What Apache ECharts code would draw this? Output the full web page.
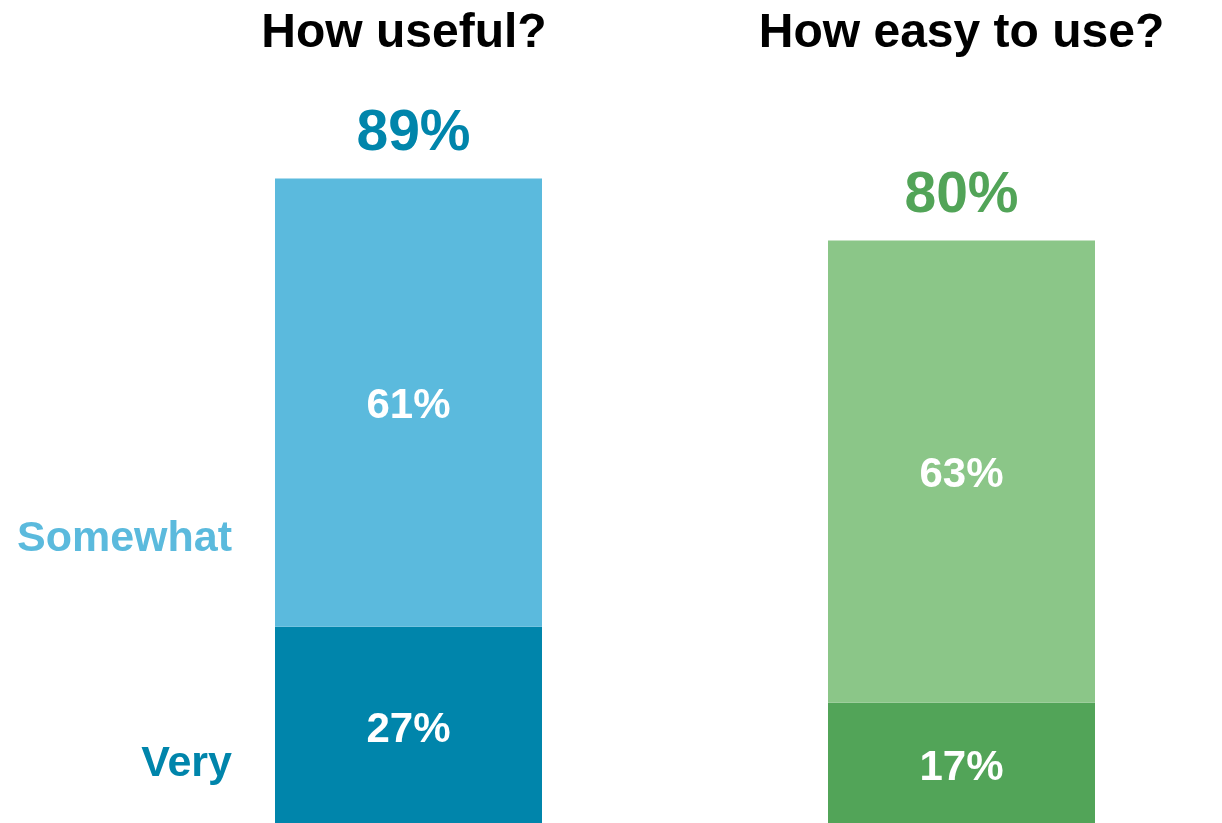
<!DOCTYPE html>
<html>
<head>
<meta charset="utf-8">
<style>
  html, body { margin: 0; padding: 0; background: #ffffff; }
  #chart { width: 1222px; height: 823px; }
</style>
<script src="https://cdn.jsdelivr.net/npm/echarts@6/dist/echarts.min.js"></script>
</head>
<body>
<div id="chart"></div>
<script>
// Survey questions and the share of respondents per answer (percent)
const categories = ['How useful?', 'How easy to use?'];
const veryValues = [27.3, 16.9];
const somewhatValues = [61.4, 63.3];
const answerNames = ['Somewhat', 'Very'];

// Colour per question: dark shade for "Very", light shade for "Somewhat"
const veryColors = ['#0085AB', '#52A458'];
const somewhatColors = ['#5BBADD', '#8BC688'];

const FONT = '"Liberation Sans", Arial, Helvetica, sans-serif';

const pct = v => Math.round(v) + '%';
const totals = categories.map((_, i) => veryValues[i] + somewhatValues[i]);

const insideLabel = {
  show: true,
  position: 'inside',
  offset: [0, 4],
  color: '#ffffff',
  fontFamily: FONT,
  fontWeight: 'bold',
  fontSize: 42,
  formatter: p => pct(p.value)
};

const chart = echarts.init(document.getElementById('chart'), null, { renderer: 'canvas' });

chart.setOption({
  animation: false,
  backgroundColor: '#ffffff',
  grid: {
    left: 132,
    top: 96,
    width: 1106,
    height: 730,
    containLabel: false,
    outerBoundsMode: 'none'
  },
  xAxis: {
    type: 'category',
    position: 'top',
    data: [
      { value: categories[0], textStyle: { padding: [0, 9, 0, 0] } },
      { value: categories[1] }
    ],
    axisLine: { show: false },
    axisTick: { show: false },
    splitLine: { show: false },
    axisLabel: {
      interval: 0,
      margin: 38,
      color: '#000000',
      fontFamily: FONT,
      fontWeight: 'bold',
      fontSize: 48
    }
  },
  yAxis: {
    type: 'value',
    min: 0,
    max: 100,
    show: false
  },
  series: [
    {
      name: 'Very',
      type: 'bar',
      stack: 'answers',
      barWidth: 267,
      data: veryValues.map((v, i) => ({ value: v, itemStyle: { color: veryColors[i] } })),
      label: insideLabel
    },
    {
      name: 'Somewhat',
      type: 'bar',
      stack: 'answers',
      barWidth: 267,
      data: somewhatValues.map((v, i) => ({ value: v, itemStyle: { color: somewhatColors[i] } })),
      label: insideLabel
    },
    {
      // zero-height cap on each stack that carries the combined share
      name: 'Total',
      type: 'bar',
      stack: 'answers',
      barWidth: 267,
      data: totals.map((t, i) => ({
        value: 0,
        itemStyle: { color: 'transparent' },
        label: { color: veryColors[i], offset: [i === 0 ? 5 : 0, 0] }
      })),
      label: {
        show: true,
        position: 'top',
        distance: 16,
        fontFamily: FONT,
        fontWeight: 'bold',
        fontSize: 57,
        formatter: p => pct(totals[p.dataIndex])
      }
    }
  ],
  graphic: [
    {
      type: 'text',
      x: 232,
      y: 539,
      style: {
        text: answerNames[0],
        align: 'right',
        verticalAlign: 'middle',
        fontFamily: FONT,
        fontWeight: 'bold',
        fontSize: 43,
        fill: somewhatColors[0]
      }
    },
    {
      type: 'text',
      x: 232,
      y: 764,
      style: {
        text: answerNames[1],
        align: 'right',
        verticalAlign: 'middle',
        fontFamily: FONT,
        fontWeight: 'bold',
        fontSize: 43,
        fill: veryColors[0]
      }
    }
  ]
});
</script>
</body>
</html>
